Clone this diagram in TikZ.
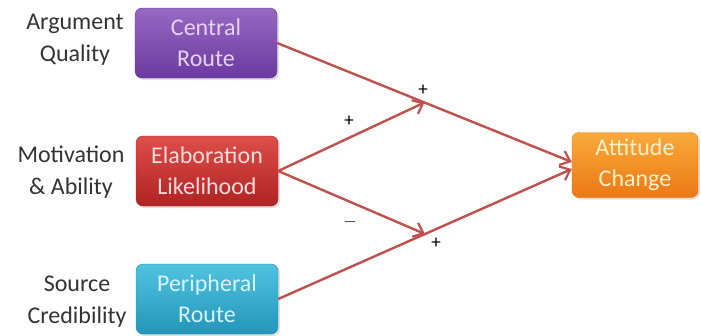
\documentclass[tikz,border=0pt]{standalone}
\usepackage{fontspec}
\setmainfont{Carlito}
\usetikzlibrary{arrows.meta,calc,shadows}
\definecolor{arr}{HTML}{C0504D}
\definecolor{lbl}{HTML}{333333}
\tikzset{
  box/.style={rounded corners=7pt, minimum width=142pt, minimum height=70pt, align=center,
    font=\fontsize{24}{31}\selectfont, inner sep=2pt,
    drop shadow={shadow xshift=2pt, shadow yshift=-2pt, opacity=0.25}},
  side/.style={align=center, text=lbl, font=\fontsize{24}{32}\selectfont, inner sep=0pt},
  conn/.style={draw=arr, line width=2.4pt, -{Straight Barb[length=9pt,width=15pt,line width=2.2pt]}},
  sign/.style={font=\fontsize{19}{19}\selectfont, inner sep=0pt},
}
\begin{document}
\begin{tikzpicture}[x=1pt,y=-1pt]
\useasboundingbox (0,0) rectangle (701,335);
\node[box, top color={rgb,255:red,150;green,105;blue,195}, bottom color={rgb,255:red,108;green,58;blue,160}, draw={rgb,255:red,100;green,55;blue,150}, text={rgb,255:red,230;green,210;blue,245}] (cen) at (206,43) {Central\\Route};
\node[box, top color={rgb,255:red,222;green,78;blue,74}, bottom color={rgb,255:red,175;green,35;blue,35}, draw={rgb,255:red,160;green,40;blue,40}, text={rgb,255:red,255;green,220;blue,220}] (ela) at (207,171) {Elaboration\\Likelihood};
\node[box, top color={rgb,255:red,80;green,195;blue,225}, bottom color={rgb,255:red,35;green,150;blue,185}, draw={rgb,255:red,40;green,140;blue,170}, text={rgb,255:red,215;green,245;blue,255}] (per) at (207,299) {Peripheral\\Route};
\node[box, minimum width=126pt, minimum height=65pt, top color={rgb,255:red,250;green,170;blue,60}, bottom color={rgb,255:red,235;green,120;blue,20}, draw={rgb,255:red,225;green,120;blue,30}, text={rgb,255:red,255;green,240;blue,200}] (att) at (635,165) {Attitude\\Change};
\node[side] (aq) at (75,40) {Argument\\Quality};
\node[side] (ma) at (71,172) {Motivation\\\&~Ability};
\node[side] (sc) at (77,302) {Source\\Credibility};
\coordinate (a1) at ($(att.west)+(0,-3)$);
\coordinate (a2) at ($(att.west)+(0,4)$);
\coordinate (m1) at ($(cen.east)!0.5!(a1)$);
\coordinate (m2) at ($(per.east)!0.5!(a2)$);
\draw[conn] (cen.east) -- (a1);
\draw[conn] (per.east) -- (a2);
\draw[conn] (ela.east) -- (m1);
\draw[conn] (ela.east) -- (m2);
\node[sign] (p1) at (423,90) {+};
\node[sign] (p2) at (349,121) {+};
\node[sign] (p3) at (350,222) {$-$};
\node[sign] (p4) at (436,243) {+};
\end{tikzpicture}
\end{document}
